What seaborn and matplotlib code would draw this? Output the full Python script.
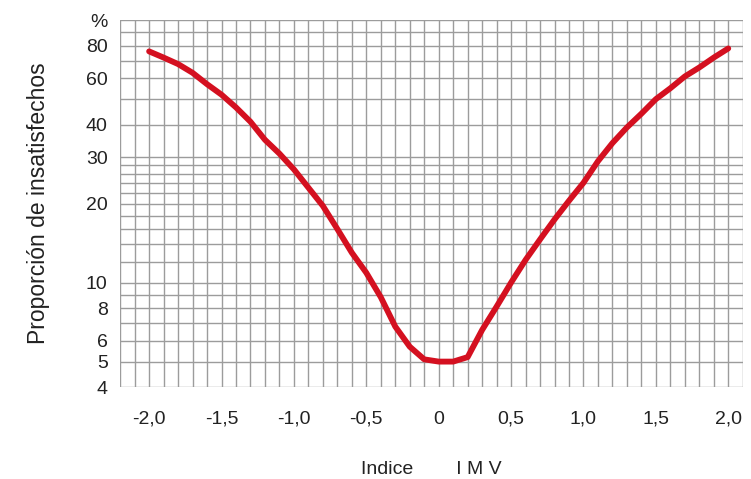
import numpy as np
import pandas as pd
import matplotlib
matplotlib.use("Agg")
import matplotlib.pyplot as plt
import seaborn as sns

# valores (IMV vs PPD)
imv = [-2.0, -1.9, -1.8, -1.7, -1.6, -1.5, -1.4, -1.3, -1.2, -1.1, -1.0, -0.9, -0.8,
       -0.7, -0.6, -0.5, -0.4, -0.3, -0.2, -0.1, 0.0, 0.1, 0.2, 0.3, 0.4, 0.5,
       0.6, 0.7, 0.8, 0.9, 1.0, 1.1, 1.2, 1.3, 1.4, 1.5, 1.6, 1.7, 1.8, 1.9, 2.0]
ppd = [76, 72, 68, 63, 57, 52, 46.5, 41, 35, 31, 27, 23, 19.6,
       16, 13, 10.9, 8.8, 6.8, 5.7, 5.1, 5.0, 5.0, 5.2, 6.6, 8.1, 10,
       12.2, 14.6, 17.4, 20.5, 24, 29, 34, 39, 44, 50, 55, 61, 66, 72, 78]

x_ticks = [-2.0, -1.5, -1.0, -0.5, 0.0, 0.5, 1.0, 1.5, 2.0]
x_labels = ["-2,0", "-1,5", "-1,0", "-0,5", "0", "0,5", "1,0", "1,5", "2,0"]
y_ticks = [4, 5, 6, 8, 10, 20, 30, 40, 60, 80, 100]
y_labels = ["4", "5", "6", "8", "10", "20", "30", "40", "60", "80", "%"]
y_grid = [4, 5, 6, 7, 8, 9, 10, 12, 14, 16, 18, 20, 22, 24, 26, 28, 30,
          40, 50, 60, 70, 80, 90, 100]

sns.set_style("white")
plt.rcParams['font.family'] = ['Liberation Sans', 'DejaVu Sans']

df = pd.DataFrame({"imv": imv, "ppd": ppd})

fig = plt.figure(figsize=(7.51, 4.79), dpi=100)
ax = fig.add_axes([0.16, 0.192, 0.829, 0.766])

ax.set_yscale("log")
ax.set_xlim(-2.2, 2.1)
ax.set_ylim(4, 100)

x_grid = np.round(np.arange(-2.2, 2.11, 0.1), 1)
for gx in x_grid:
    ax.axvline(gx, color="#9c9c9c", lw=1.0, zorder=1)
for gy in y_grid:
    ax.axhline(gy, color="#9c9c9c", lw=1.0, zorder=1)

sns.lineplot(data=df, x="imv", y="ppd", ax=ax, color="#d41020", lw=4.2,
             zorder=3, solid_capstyle="round", solid_joinstyle="round")

ax.set_xticks(x_ticks)
ax.set_xticklabels(x_labels)
ax.set_yticks(y_ticks)
ax.set_yticklabels(y_labels)
ax.minorticks_off()
ax.tick_params(axis="both", labelsize=14, color="#cccccc", length=5,
               width=1, direction="out", labelcolor="#222222")
ax.tick_params(axis="x", pad=12)
ax.tick_params(axis="y", pad=4)

for s in ax.spines.values():
    s.set_visible(False)

ax.set_xlabel("Indice        I M V", fontsize=14, labelpad=24, color="#222222")
ax.set_ylabel("Proporción de insatisfechos", fontsize=16.5, labelpad=26, color="#222222")

fig.savefig("out.png", dpi=100)
